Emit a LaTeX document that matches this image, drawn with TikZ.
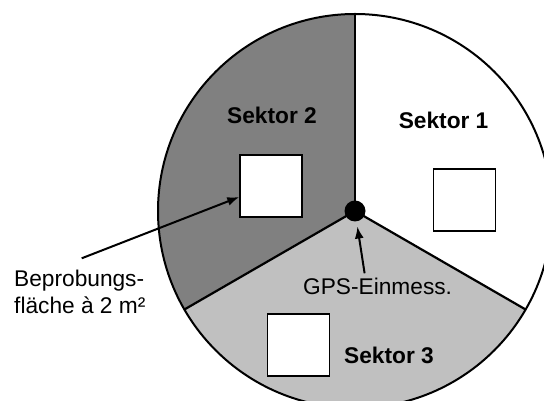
\documentclass[tikz,border=0pt]{standalone}
\usepackage{fontspec}
\setmainfont{Liberation Sans}
\usetikzlibrary{arrows.meta,calc}
\definecolor{darkg}{HTML}{808080}
\definecolor{lightg}{HTML}{C0C0C0}
\tikzset{
  lbl/.style={font=\fontsize{22.7}{26.6}\selectfont, inner sep=0pt},
  blbl/.style={font=\fontsize{22.7}{26.6}\selectfont\bfseries, inner sep=0pt},
  sq/.style={draw=black, fill=white, line width=1.5pt, minimum size=62pt, inner sep=0pt},
  gpsdot/.style={circle, fill=black, minimum size=21pt, inner sep=0pt},
  arr/.style={line width=2pt, -{Latex[length=12pt,width=9pt]}},
  edge/.style={line width=2.2pt}
}
\begin{document}
\begin{tikzpicture}[x=1pt,y=1pt]
\useasboundingbox (0,0) rectangle (544,401);
\clip (0,0) rectangle (544,401);
\coordinate (C) at (355,190);
% sectors
\fill[white] (C) -- ++(-30:197) arc[start angle=-30, end angle=90, radius=197] -- cycle;
\fill[darkg] (C) -- ++(90:197) arc[start angle=90, end angle=210, radius=197] -- cycle;
\fill[lightg] (C) -- ++(210:197) arc[start angle=210, end angle=330, radius=197] -- cycle;
\draw[line width=2pt] (C) circle[radius=197];
\coordinate (e1) at ($(C)+(90:197)$);
\coordinate (e2) at ($(C)+(210:197)$);
\coordinate (e3) at ($(C)+(330:197)$);
\draw[edge] (C) -- (e1);
\draw[edge] (C) -- (e2);
\draw[edge] (C) -- (e3);
% squares
\node[sq] (q1) at (464.5,201) {};
\node[sq] (q2) at (271,215) {};
\node[sq] (q3) at (298.5,56) {};
% dot
\node[gpsdot] (gps) at (C) {};
% labels
\node[blbl, anchor=base] (s1) at (443.6,272) {Sektor 1};
\node[blbl, anchor=base] (s2) at (272,277) {Sektor 2};
\node[blbl, anchor=base] (s3) at (389,37) {Sektor 3};
\node[lbl, anchor=base] (gpsl) at (377.6,106) {GPS-Einmess.};
\node[lbl, anchor=base west, align=left] (bp) at (14,87.7) {Beprobungs-\\fläche à 2 m²};
% arrows
\coordinate (a1) at (81.7,142.7);
\draw[arr] (a1) -- ([yshift=-11pt]q2.west);
\coordinate (a2) at (364.6,127.7);
\draw[arr, shorten >=5pt] (a2) -- (gps);
\end{tikzpicture}
\end{document}
